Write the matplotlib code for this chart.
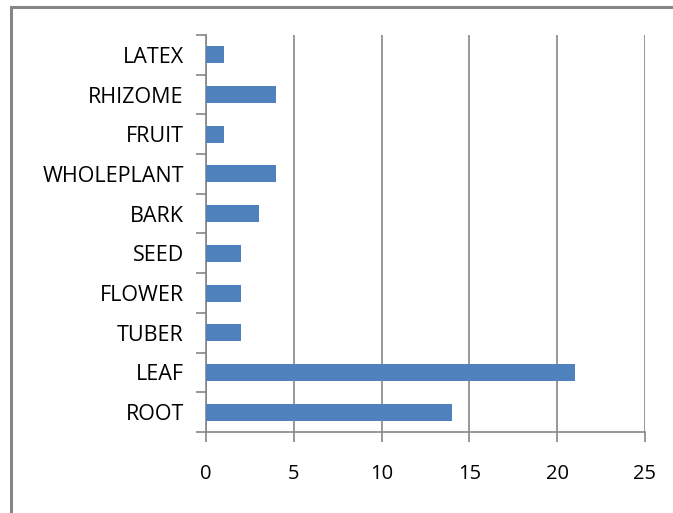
import numpy as np
import matplotlib.pyplot as plt
from matplotlib.patches import Rectangle

# categories from bottom to top
categories = ['ROOT', 'LEAF', 'TUBER', 'FLOWER', 'SEED', 'BARK',
              'WHOLEPLANT', 'FRUIT', 'RHIZOME', 'LATEX']
counts = [14, 21, 2, 2, 2, 3, 4, 1, 4, 1]
x_ticks = [0, 5, 10, 15, 20, 25]

plt.rcParams['font.family'] = ['Open Sans', 'DejaVu Sans']

fig = plt.figure(figsize=(6.73, 5.13), dpi=100)
ax = fig.add_axes([206 / 673, 1 - 432 / 513, 439 / 673, 397 / 513])

# outer chart border (only top/left visible in the reference)
fig.patches.append(Rectangle((11 / 673, -0.1), 1.2, 1 - 7 / 513 + 0.1,
                             transform=fig.transFigure, fill=False,
                             edgecolor='#868686', linewidth=2.2))

y = np.arange(len(categories))
ax.barh(y, counts, height=0.43, color='#4F81BD', zorder=3)

ax.set_xlim(0, 25)
ax.set_ylim(-0.5, len(categories) - 0.5)
ax.set_xticks(x_ticks)
ax.set_xticklabels([str(t) for t in x_ticks], fontsize=14.5)
ax.grid(axis='x', color='#868686', linewidth=1.2, zorder=0)

# y ticks at category boundaries, labels centred on the bars
ax.set_yticks(np.arange(-0.5, len(categories), 1))
ax.set_yticklabels([])
ax.set_yticks(y, minor=True)
ax.set_yticklabels(categories, minor=True, fontsize=15.5)
ax.tick_params(axis='y', which='minor', length=0, pad=16)
ax.tick_params(axis='y', which='major', length=7, width=1.2, color='#868686')
ax.tick_params(axis='x', length=7, width=1.2, color='#868686', pad=16)

for s in ['top', 'right']:
    ax.spines[s].set_visible(False)
for s in ['left', 'bottom']:
    ax.spines[s].set_color('#868686')
    ax.spines[s].set_linewidth(1.2)

fig.savefig('out.png', dpi=100)
